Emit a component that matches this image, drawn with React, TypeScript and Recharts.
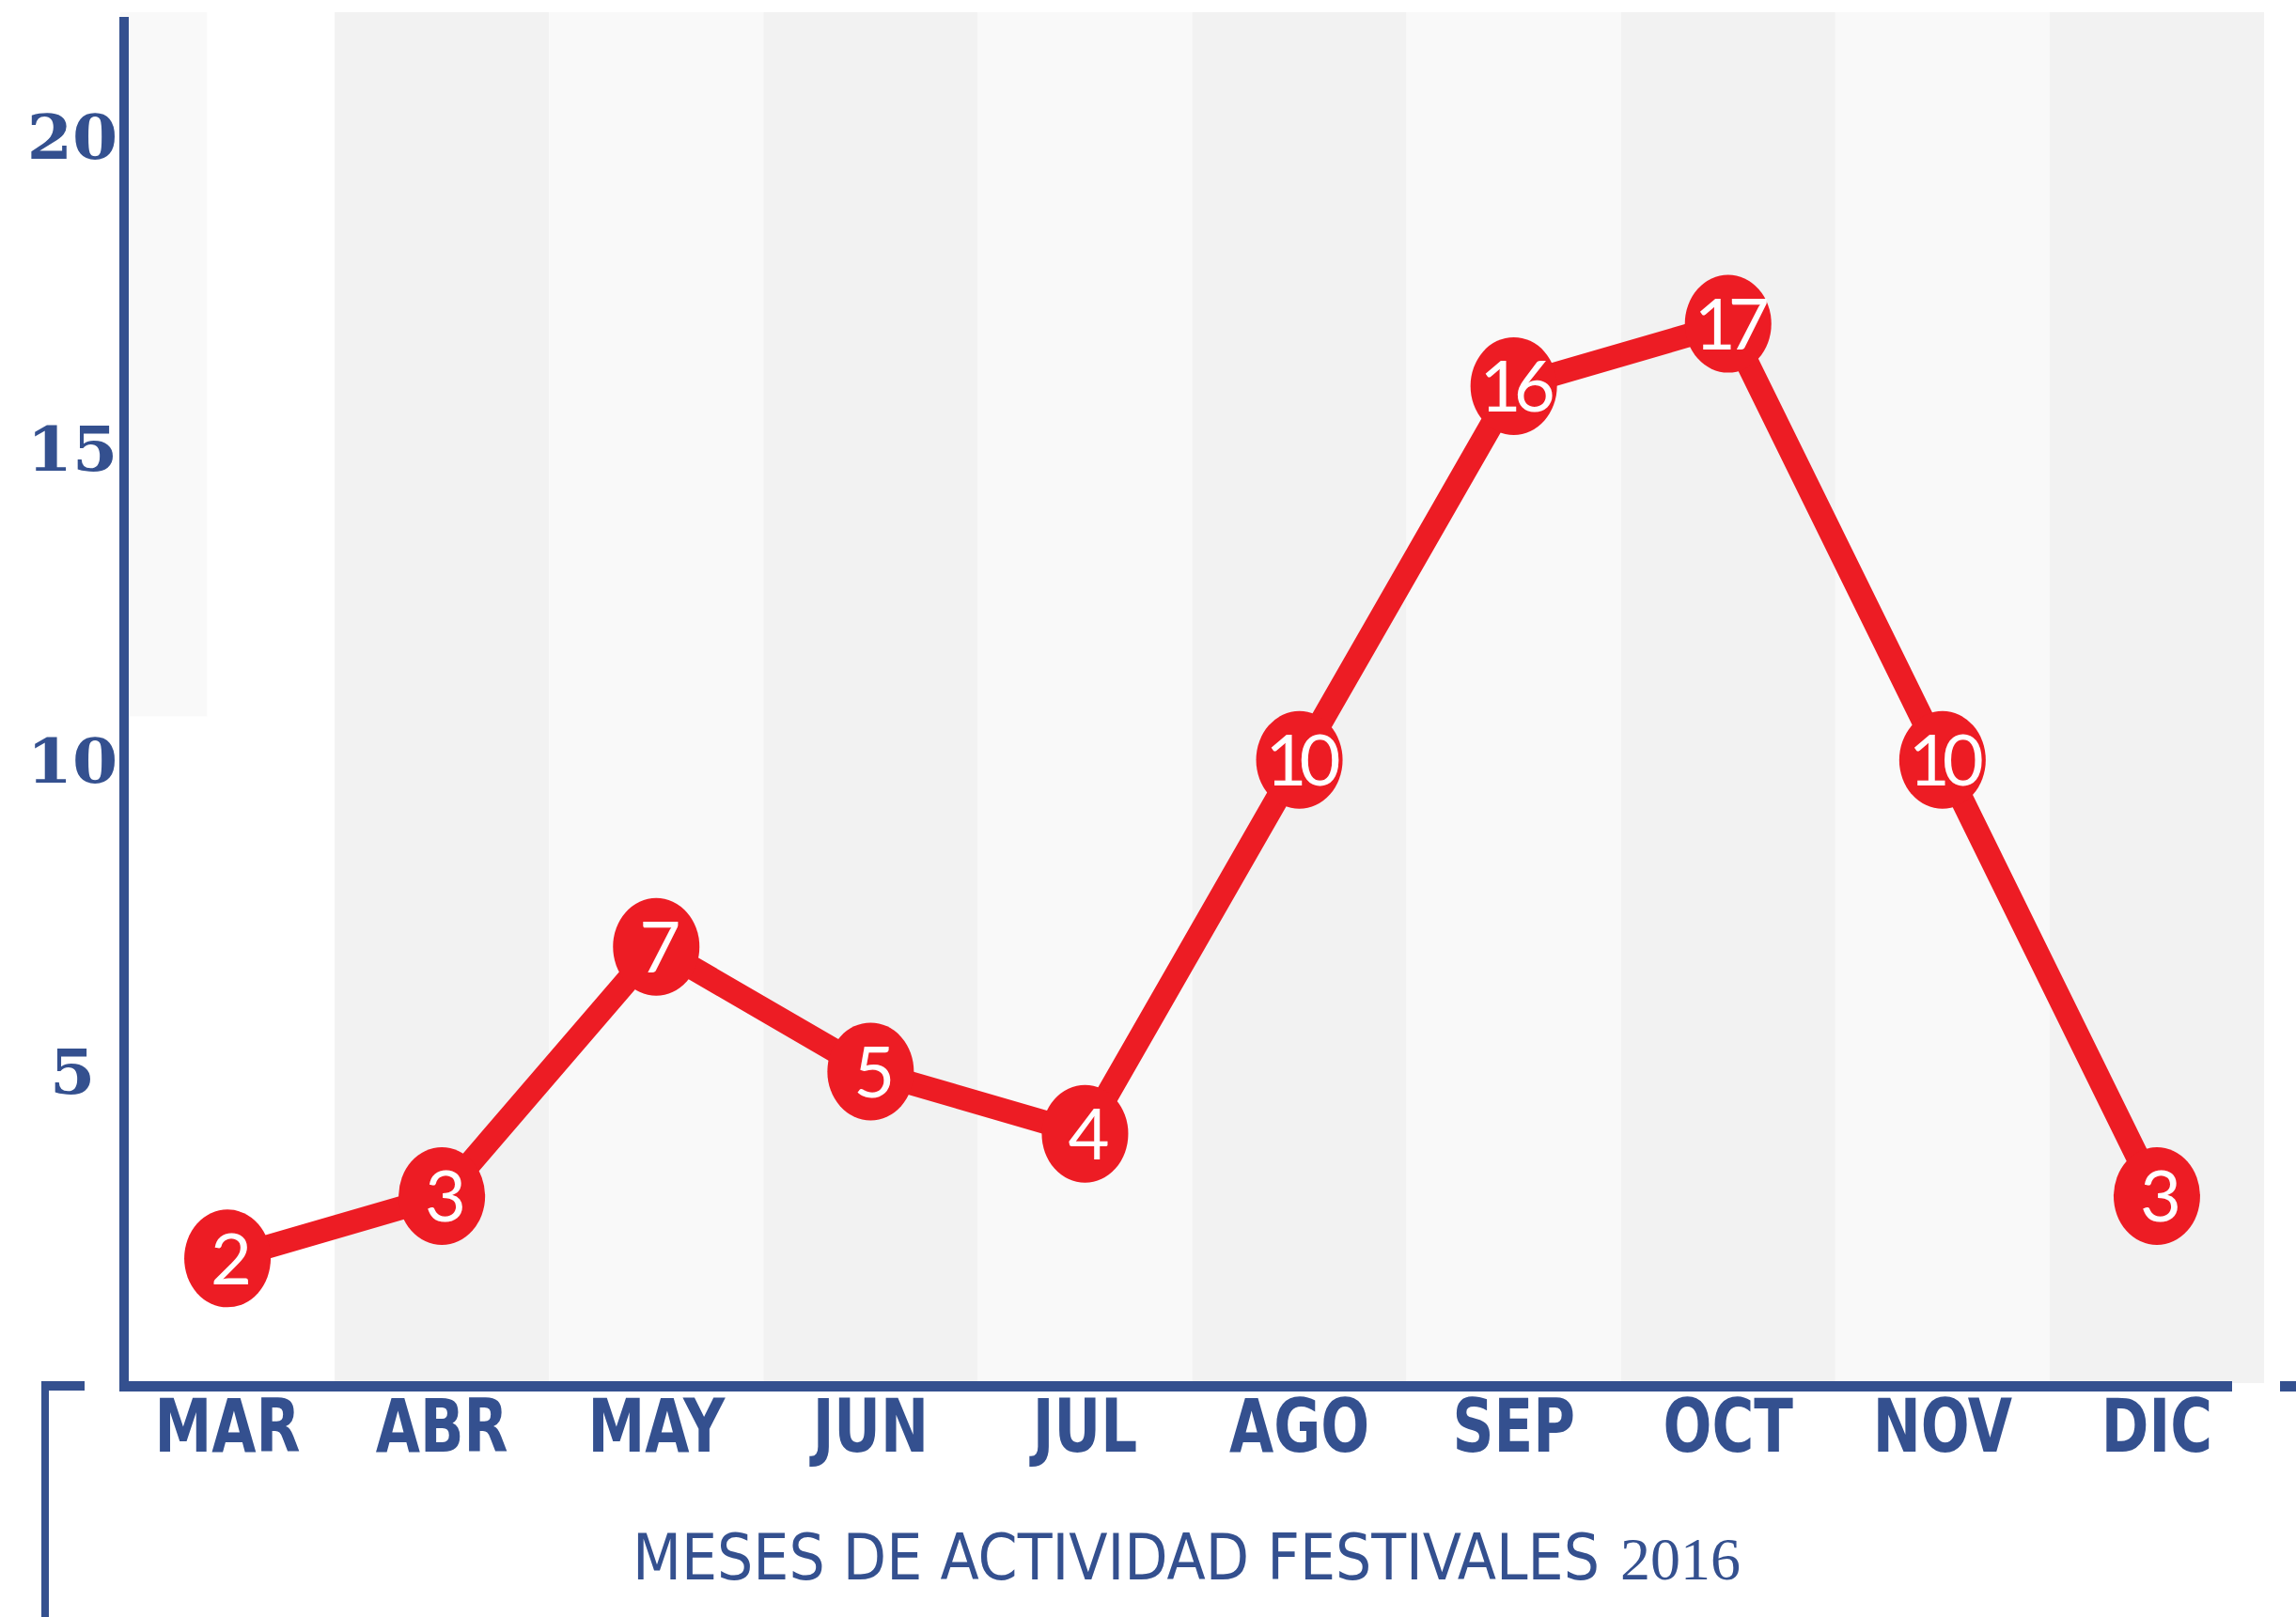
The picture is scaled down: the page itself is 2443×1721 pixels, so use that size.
import * as React from 'react';
import {LineChart, Line, XAxis, YAxis, ReferenceArea} from 'recharts';

// meses y numero de festivales
const months = ['MAR', 'ABR', 'MAY', 'JUN', 'JUL', 'AGO', 'SEP', 'OCT', 'NOV', 'DIC'];
const festivals = [2, 3, 7, 5, 4, 10, 16, 17, 10, 3];
const yTicks = [5, 10, 15, 20];
const title = 'MESES DE ACTIVIDAD FESTIVALES';
const titleYear = '2016';

const data = months.map((m, i) => ({mes: m, festivales: festivals[i]}));

const BLUE = '#34508f';
const RED = '#ed1c24';
const NARROW = "'DejaVu Sans Condensed', 'Liberation Sans Narrow', 'Liberation Sans', sans-serif";

const XTick = (props: any) => {
    const {x, y, payload} = props;
    return (
        <text transform={`translate(${x},${y + 65}) scale(0.87,1)`} textAnchor="middle" fill={BLUE}
            fontFamily={NARROW} fontWeight={700} fontSize={78}>
            {payload.value}
        </text>
    );
};

const YTick = (props: any) => {
    const {x, y, payload} = props;
    return (
        <text transform={`translate(${x - 43},${y}) scale(1.05,1)`} dy="0.36em" textAnchor="middle" fill={BLUE}
            fontFamily="'DejaVu Serif', serif" fontWeight={700} fontSize={66}>
            {payload.value}
        </text>
    );
};

const Dot = (props: any) => {
    const {cx, cy, value, index} = props;
    if (cx == null || cy == null) return null;
    return (
        <g key={'dot-' + index}>
            <ellipse cx={cx} cy={cy} rx={46} ry={52} fill={RED} />
            <text x={cx} y={cy} dy="0.36em" textAnchor="middle" fill="#fff"
                fontFamily="Lato, sans-serif" fontWeight={400} fontSize={76} letterSpacing={-8}>
                {value}
            </text>
        </g>
    );
};

// ejes, corchete y titulo, encima del grafico
const Decor = () => (
    <svg width={2443} height={1721} style={{position: 'absolute', left: 0, top: 0, pointerEvents: 'none'}}>
        <rect x={127} y={18} width={10} height={1463} fill={BLUE} />
        <rect x={127} y={1470} width={2248} height={11} fill={BLUE} />
        <rect x={2426} y={1470} width={17} height={11} fill={BLUE} />
        <rect x={44} y={1470} width={8} height={251} fill={BLUE} />
        <rect x={44} y={1470} width={46} height={10} fill={BLUE} />
        <text x={673} y={1681} fill={BLUE} fontFamily={NARROW} fontSize={67}>
            {title}
            <tspan dx={22} fontFamily="'Liberation Serif', serif" fontSize={64}>{titleYear}</tspan>
        </text>
    </svg>
);

const stripShape = (p: any) => (
    <rect x={p.x} y={p.y} width={p.width * 0.405} height={p.height} fill="#f9f9f9" />
);

export default class App extends React.Component<any, any> {
    public render() {
        return (
            <div style={{position: 'absolute', left: 0, top: 0, width: 2443, height: 1721}}>
                <LineChart width={2443} height={1721} data={data}
                    margin={{top: 13, right: 34, bottom: 189, left: 0}}>
                    {months.map((m, i) => i === 0 ? null : (
                        <ReferenceArea key={m} x1={m} x2={m} y1={0} y2={22}
                            fill={i % 2 === 1 ? '#f2f2f2' : '#f9f9f9'} fillOpacity={1} stroke="none" />
                    ))}
                    <ReferenceArea x1="MAR" x2="MAR" y1={10.7} y2={22} shape={stripShape} />
                    <XAxis dataKey="mes" scale="band" height={60} axisLine={false} tickLine={false}
                        tick={<XTick />} interval={0} />
                    <YAxis width={128} domain={[0, 22]} ticks={yTicks} axisLine={false} tickLine={false}
                        tick={<YTick />} />
                    <Line type="linear" dataKey="festivales" stroke={RED} strokeWidth={25}
                        dot={Dot} activeDot={false} isAnimationActive={false} />
                </LineChart>
                <Decor />
            </div>
        );
    }
}
